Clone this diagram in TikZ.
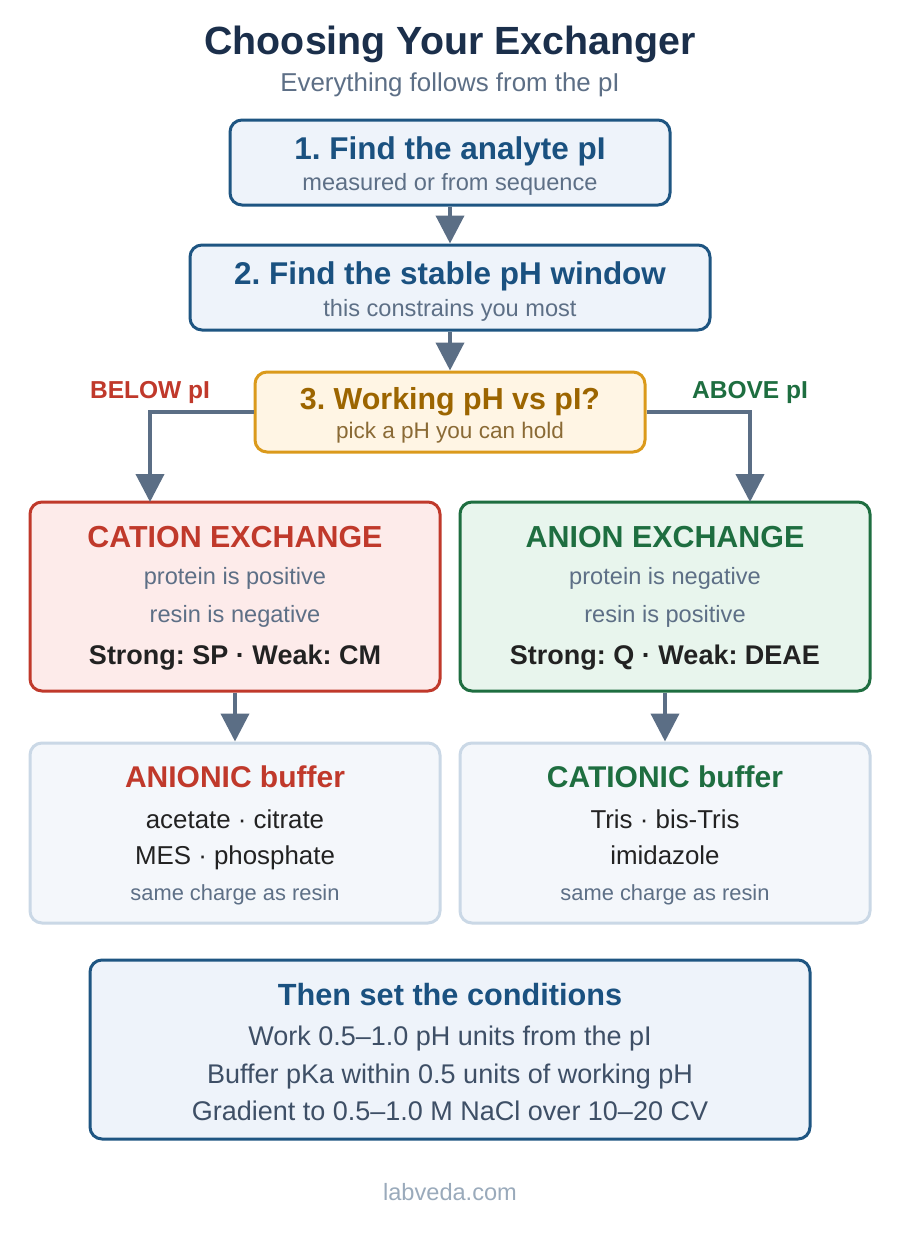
\documentclass[tikz,border=0pt]{standalone}
\usepackage{fontspec}
\setmainfont{Liberation Sans}
\usetikzlibrary{arrows.meta}
\definecolor{navy}{HTML}{1B2F4B}
\definecolor{graytxt}{HTML}{5D6F86}
\definecolor{bluetxt}{HTML}{1A5180}
\definecolor{blueborder}{HTML}{1E5582}
\definecolor{bluefill}{HTML}{EEF3FA}
\definecolor{orborder}{HTML}{DB9A1B}
\definecolor{orfill}{HTML}{FFF5E4}
\definecolor{ortitle}{HTML}{9C6500}
\definecolor{orsub}{HTML}{8A6A35}
\definecolor{redc}{HTML}{C0392B}
\definecolor{redfill}{HTML}{FDEBEA}
\definecolor{greenc}{HTML}{1E6E40}
\definecolor{greenfill}{HTML}{E8F5ED}
\definecolor{buffill}{HTML}{F4F7FB}
\definecolor{bufborder}{HTML}{CAD8E6}
\definecolor{darktxt}{HTML}{222222}
\definecolor{condtxt}{HTML}{3E4F66}
\definecolor{foot}{HTML}{9AAABB}
\definecolor{arrowc}{HTML}{5B6E85}
\newcommand{\fsz}[1]{\fontsize{#1pt}{#1pt}\selectfont}
\frenchspacing
\tikzset{
  box/.style={draw, rounded corners=9pt, line width=2.25pt, inner sep=0pt},
  txt/.style={anchor=base, inner sep=0pt},
  arr/.style={draw=arrowc, line width=3pt, -{Triangle[width=21pt,length=21pt]}},
}
\begin{document}
\begin{tikzpicture}[x=0.75pt,y=-0.75pt]
\useasboundingbox[fill=white] (0,0) rectangle (900,1240);
% title
\node[txt, text=navy, font=\fsz{29.5}\bfseries] (title) at (450,54) {Choosing Your Exchanger};
\node[txt, text=graytxt, font=\fsz{19.4}] (subtitle) at (450,91) {Everything follows from the pI};
% box 1
\node[box, draw=blueborder, fill=bluefill, minimum width=330pt, minimum height=63.75pt] (b1) at (450,162.5) {};
\node[txt, text=bluetxt, font=\fsz{23.6}\bfseries] (b1t) at (450,159) {1. Find the analyte pI};
\node[txt, text=graytxt, font=\fsz{17.7}] (b1s) at (450,190) {measured or from sequence};
% box 2
\node[box, draw=blueborder, fill=bluefill, minimum width=390pt, minimum height=63.75pt] (b2) at (450,287.5) {};
\node[txt, text=bluetxt, font=\fsz{23.6}\bfseries] (b2t) at (450,284) {2. Find the stable pH window};
\node[txt, text=graytxt, font=\fsz{17.7}] (b2s) at (450,316) {this constrains you most};
% box 3
\node[box, draw=orborder, fill=orfill, minimum width=292.5pt, minimum height=60pt] (b3) at (450,412) {};
\node[txt, text=ortitle, font=\fsz{22.8}\bfseries] (b3t) at (450,409) {3. Working pH vs pI?};
\node[txt, text=orsub, font=\fsz{16.9}] (b3s) at (450,438) {pick a pH you can hold};
% branch labels
\node[txt, text=redc, font=\fsz{18.4}\bfseries] (below) at (150,398) {BELOW pI};
\node[txt, text=greenc, font=\fsz{18.4}\bfseries] (above) at (750,398) {ABOVE pI};
% cation
\node[box, draw=redc, fill=redfill, minimum width=307.5pt, minimum height=141.75pt] (cat) at (235,596.5) {};
\node[txt, text=redc, font=\fsz{22.8}\bfseries] (catt) at (235,547) {CATION EXCHANGE};
\node[txt, text=graytxt, font=\fsz{17.7}] (cat1) at (235,584) {protein is positive};
\node[txt, text=graytxt, font=\fsz{17.7}] (cat2) at (235,622) {resin is negative};
\node[txt, text=darktxt, font=\fsz{20.25}\bfseries] (cat3) at (235,664) {Strong: SP · Weak: CM};
% anion
\node[box, draw=greenc, fill=greenfill, minimum width=307.5pt, minimum height=141.75pt] (ani) at (665,596.5) {};
\node[txt, text=greenc, font=\fsz{22.8}\bfseries] (anit) at (665,547) {ANION EXCHANGE};
\node[txt, text=graytxt, font=\fsz{17.7}] (ani1) at (665,584) {protein is negative};
\node[txt, text=graytxt, font=\fsz{17.7}] (ani2) at (665,622) {resin is positive};
\node[txt, text=darktxt, font=\fsz{20.25}\bfseries] (ani3) at (665,664) {Strong: Q · Weak: DEAE};
% buffers
\node[box, draw=bufborder, fill=buffill, minimum width=307.5pt, minimum height=135pt] (bufl) at (235,833) {};
\node[txt, text=redc, font=\fsz{22.5}\bfseries] (buflt) at (235,787) {ANIONIC buffer};
\node[txt, text=darktxt, font=\fsz{19.4}] (bufl1) at (235,828) {acetate · citrate};
\node[txt, text=darktxt, font=\fsz{19.4}] (bufl2) at (235,864) {MES · phosphate};
\node[txt, text=graytxt, font=\fsz{16.4}] (bufl3) at (235,900) {same charge as resin};
\node[box, draw=bufborder, fill=buffill, minimum width=307.5pt, minimum height=135pt] (bufr) at (665,833) {};
\node[txt, text=greenc, font=\fsz{22.5}\bfseries] (bufrt) at (665,787) {CATIONIC buffer};
\node[txt, text=darktxt, font=\fsz{19.4}] (bufr1) at (665,828) {Tris · bis-Tris};
\node[txt, text=darktxt, font=\fsz{19.4}] (bufr2) at (665,864) {imidazole};
\node[txt, text=graytxt, font=\fsz{16.4}] (bufr3) at (665,900) {same charge as resin};
% conditions
\node[box, draw=blueborder, fill=bluefill, minimum width=540pt, minimum height=134.25pt] (cond) at (450,1049.5) {};
\node[txt, text=bluetxt, font=\fsz{23}\bfseries] (condt) at (450,1005) {Then set the conditions};
\node[txt, text=condtxt, font=\fsz{20.25}] (cond1) at (450,1045) {Work 0.5–1.0 pH units from the pI};
\node[txt, text=condtxt, font=\fsz{20.25}] (cond2) at (450,1083) {Buffer pKa within 0.5 units of working pH};
\node[txt, text=condtxt, font=\fsz{20.25}] (cond3) at (450,1120) {Gradient to 0.5–1.0 M NaCl over 10–20 CV};
% footer
\node[txt, text=foot, font=\fsz{17.7}] (footer) at (450,1200) {labveda.com};
% connectors
\coordinate (catin) at (150,502);
\coordinate (aniin) at (750,502);
\draw[arr] (b1.south) -- (b2.north);
\draw[arr] (b2.south) -- (b3.north);
\draw[arr] (b3.west) -| (catin);
\draw[arr] (b3.east) -| (aniin);
\draw[arr] (cat.south) -- (bufl.north);
\draw[arr] (ani.south) -- (bufr.north);
\end{tikzpicture}
\end{document}
